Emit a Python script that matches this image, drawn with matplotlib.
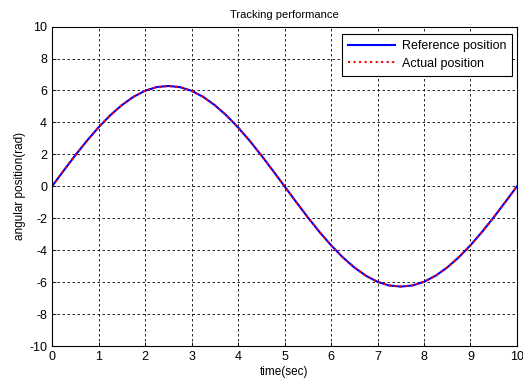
import numpy as np
import matplotlib
matplotlib.use('Agg')
import matplotlib.pyplot as plt

plt.rcParams['font.family'] = ['Liberation Sans', 'DejaVu Sans']
plt.rcParams['axes.unicode_minus'] = False

# values (every 0.25 s)
time_sec = np.arange(0, 10.01, 0.25)
half_wave = [0.00, 0.98, 1.94, 2.85, 3.69, 4.44, 5.08, 5.60, 5.98, 6.21,
             6.28, 6.21, 5.98, 5.60, 5.08, 4.44, 3.69, 2.85, 1.94, 0.98]
reference_pos = half_wave + [-v for v in half_wave] + [0.00]
actual_pos = list(reference_pos)

x_ticks = list(range(0, 11))
y_ticks = list(range(-10, 11, 2))

fig = plt.figure(figsize=(5.23, 3.83), dpi=100)
ax = fig.add_axes([0.0995, 0.0966, 0.889, 0.834])

ax.plot(time_sec, reference_pos, color='blue', linewidth=1.5, label='Reference position')
ax.plot(time_sec, actual_pos, color='red', linewidth=1.5, linestyle=':', label='Actual position')

ax.set_xlim(0, 10)
ax.set_ylim(-10, 10)
ax.set_xticks(x_ticks)
ax.set_yticks(y_ticks)
ax.tick_params(direction='in', labelsize=9, length=3, width=0.6)
ax.grid(True, color='black', linestyle=(0, (3, 3)), linewidth=0.6)
for s in ax.spines.values():
    s.set_linewidth(0.8)

ax.set_title('Tracking performance', fontsize=8, pad=6)
ax.set_xlabel('time(sec)', fontsize=8.5, labelpad=2)
ax.set_ylabel('angular position(rad)', fontsize=8.5, labelpad=2)

leg = ax.legend(loc='upper right', fontsize=9, fancybox=False, framealpha=1,
                edgecolor='black', bbox_to_anchor=(0.99, 0.977), borderaxespad=0,
                handlelength=3.8, handletextpad=0.5, borderpad=0.5, labelspacing=0.45)
leg.get_frame().set_linewidth(0.8)

fig.savefig('out.png', dpi=100)
